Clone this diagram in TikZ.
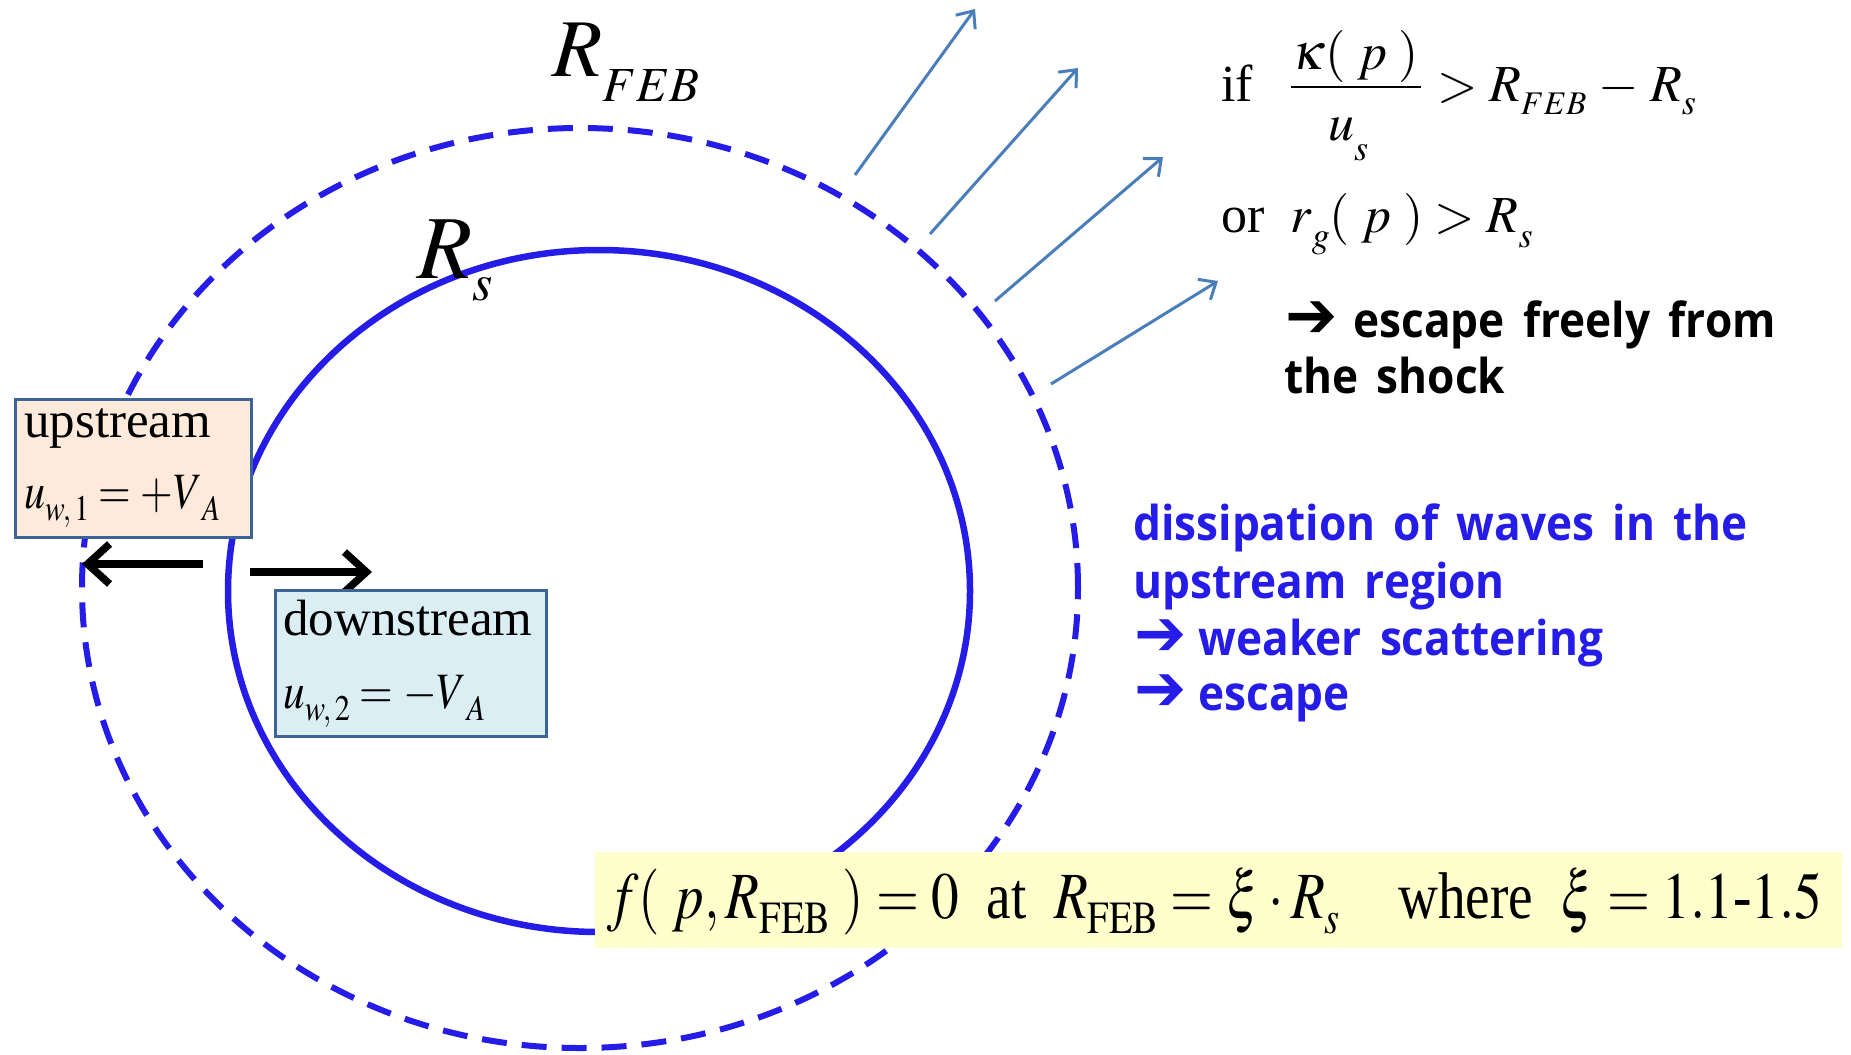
\documentclass[tikz,border=0pt]{standalone}
\usepackage{mathptmx}
\usepackage[no-math]{fontspec}
\setmainfont{Liberation Serif}
\newfontfamily\kor[FakeStretch=0.92,WordSpace=1.6]{Open Sans}
\newfontfamily\dvs{DejaVu Sans}
\usepackage{graphicx}
\usetikzlibrary{arrows.meta}
\definecolor{shock}{RGB}{38,28,232}
\definecolor{steel}{RGB}{74,126,187}
\definecolor{boxedge}{RGB}{60,100,150}
\definecolor{peach}{RGB}{253,234,218}
\definecolor{ltblue}{RGB}{219,238,244}
\definecolor{lemon}{RGB}{255,255,204}
\newcommand{\fs}[1]{\fontsize{#1}{#1}\selectfont}
\newcommand{\lsub}[3]{\raisebox{-#1}{\fs{#2}$#3$}}
\newcommand{\harr}{\scalebox{1.3}[1.35]{\dvs\bfseries ➔}}
\tikzset{
  txt/.style={inner sep=0pt,anchor=base west},
  shockline/.style={draw=shock,line width=6.5pt},
  febline/.style={draw=shock,line width=6pt,dash pattern=on 25pt off 15pt},
  escarrow/.style={draw=steel,line width=3pt,-{Straight Barb[length=14pt,width=24pt]}},
  wavearrow/.style={draw=black,line width=7.5pt,-{Straight Barb[length=22pt,width=40pt]}},
  regionbox/.style={draw=boxedge,line width=2.5pt,inner sep=0pt,anchor=north west},
  kortext/.style={txt,font=\kor\bfseries\fs{48}},
}
\begin{document}
\begin{tikzpicture}[x=1pt,y=-1pt]
\useasboundingbox (0,0) rectangle (1851,1054);
% ellipses
\draw[febline] (580,588) ellipse [x radius=498pt, y radius=460pt];
\draw[shockline] (599,591) ellipse [x radius=371pt, y radius=341pt];
% labels of radii
\node[txt] (rfeb) at (552,77) {\fs{82}$R$\lsub{25pt}{49}{FEB}};
\node[txt] (rs) at (417,278) {\fs{90}$R$\lsub{22pt}{52}{s}};
% escaping arrows
\coordinate (e1s) at (855,175); \coordinate (e1e) at (975,9);
\coordinate (e2s) at (930,234); \coordinate (e2e) at (1078,68);
\coordinate (e3s) at (995,301); \coordinate (e3e) at (1163,157);
\coordinate (e4s) at (1051,384); \coordinate (e4e) at (1218,281);
\draw[escarrow] (e1s) -- (e1e);
\draw[escarrow] (e2s) -- (e2e);
\draw[escarrow] (e3s) -- (e3e);
\draw[escarrow] (e4s) -- (e4e);
% condition formulas
\node[txt] (if) at (1221,102) {\fs{52}if};
\node[inner sep=0pt,anchor=base] (num) at (1356,70) {\fs{52}$\kappa(\;p\;)$};
\draw[line width=2.4pt] (1291,87) -- (1421,87);
\node[txt] (den) at (1328,140) {\fs{52}$u$\lsub{20pt}{36}{s}};
\node[txt] (rhs) at (1437,102) {\fs{52}$>R$\lsub{13pt}{33}{FEB}\fs{52}$\;-\;R$\lsub{13pt}{36}{s}};
\node[txt] (or) at (1221,232) {\fs{52}or\ \ $r$\lsub{15pt}{36}{g}\fs{52}$(\;p\;)>R$\lsub{15pt}{36}{s}};
\node[kortext] (esc1) at (1285,337) {\harr\hspace{16pt}escape freely from};
\node[kortext] (esc2) at (1284,393) {the shock};
% dissipation text
\node[kortext,text=shock] (d1) at (1133,540) {dissipation of waves in the};
\node[kortext,text=shock] (d2) at (1133,598) {upstream region};
\node[kortext,text=shock] (d3) at (1134,655) {\harr\hspace{12pt}weaker scattering};
\node[kortext,text=shock] (d4) at (1134,710) {\harr\hspace{12pt}escape};
% wave velocity arrows
\coordinate (lw0) at (203,564); \coordinate (lw1) at (82,564);
\coordinate (rw0) at (250,572); \coordinate (rw1) at (372,572);
\draw[wavearrow] (lw0) -- (lw1);
\draw[wavearrow] (rw0) -- (rw1);
% region boxes
\node[regionbox,fill=peach,minimum width=236pt,minimum height=138pt] (up) at (14,398) {};
\node[txt] (uplab) at (24,437) {\fs{51}upstream};
\node[txt] (upvel) at (24,508) {\resizebox{196pt}{\height}{\fs{51}$u$\lsub{12pt}{36}{w,1}\fs{51}$\;=+V$\lsub{12pt}{36}{A}}};
\node[regionbox,fill=ltblue,minimum width=271pt,minimum height=146pt] (down) at (274,589) {};
\node[txt] (downlab) at (283,635) {\fs{51}downstream};
\node[txt] (downvel) at (283,708) {\resizebox{202pt}{\height}{\fs{51}$u$\lsub{12pt}{36}{w,2}\fs{51}$\;=-V$\lsub{12pt}{36}{A}}};
% boundary condition
\node[inner sep=0pt,anchor=north west,fill=lemon,minimum width=1247pt,minimum height=96pt] (bc) at (595,852) {};
\node[txt] (bctext) at (607,918) {\resizebox{1215pt}{\height}{\fs{66}$f(\;p,R$\lsub{15pt}{46}{\mathrm{FEB}}\fs{66}$\;)=0$\ \ at\ \ $R$\lsub{15pt}{46}{\mathrm{FEB}}\fs{66}$\;=\xi\cdot R$\lsub{15pt}{46}{s}\hspace{70pt}where\ \ $\xi=1.1$-$1.5$}};
\end{tikzpicture}
\end{document}
